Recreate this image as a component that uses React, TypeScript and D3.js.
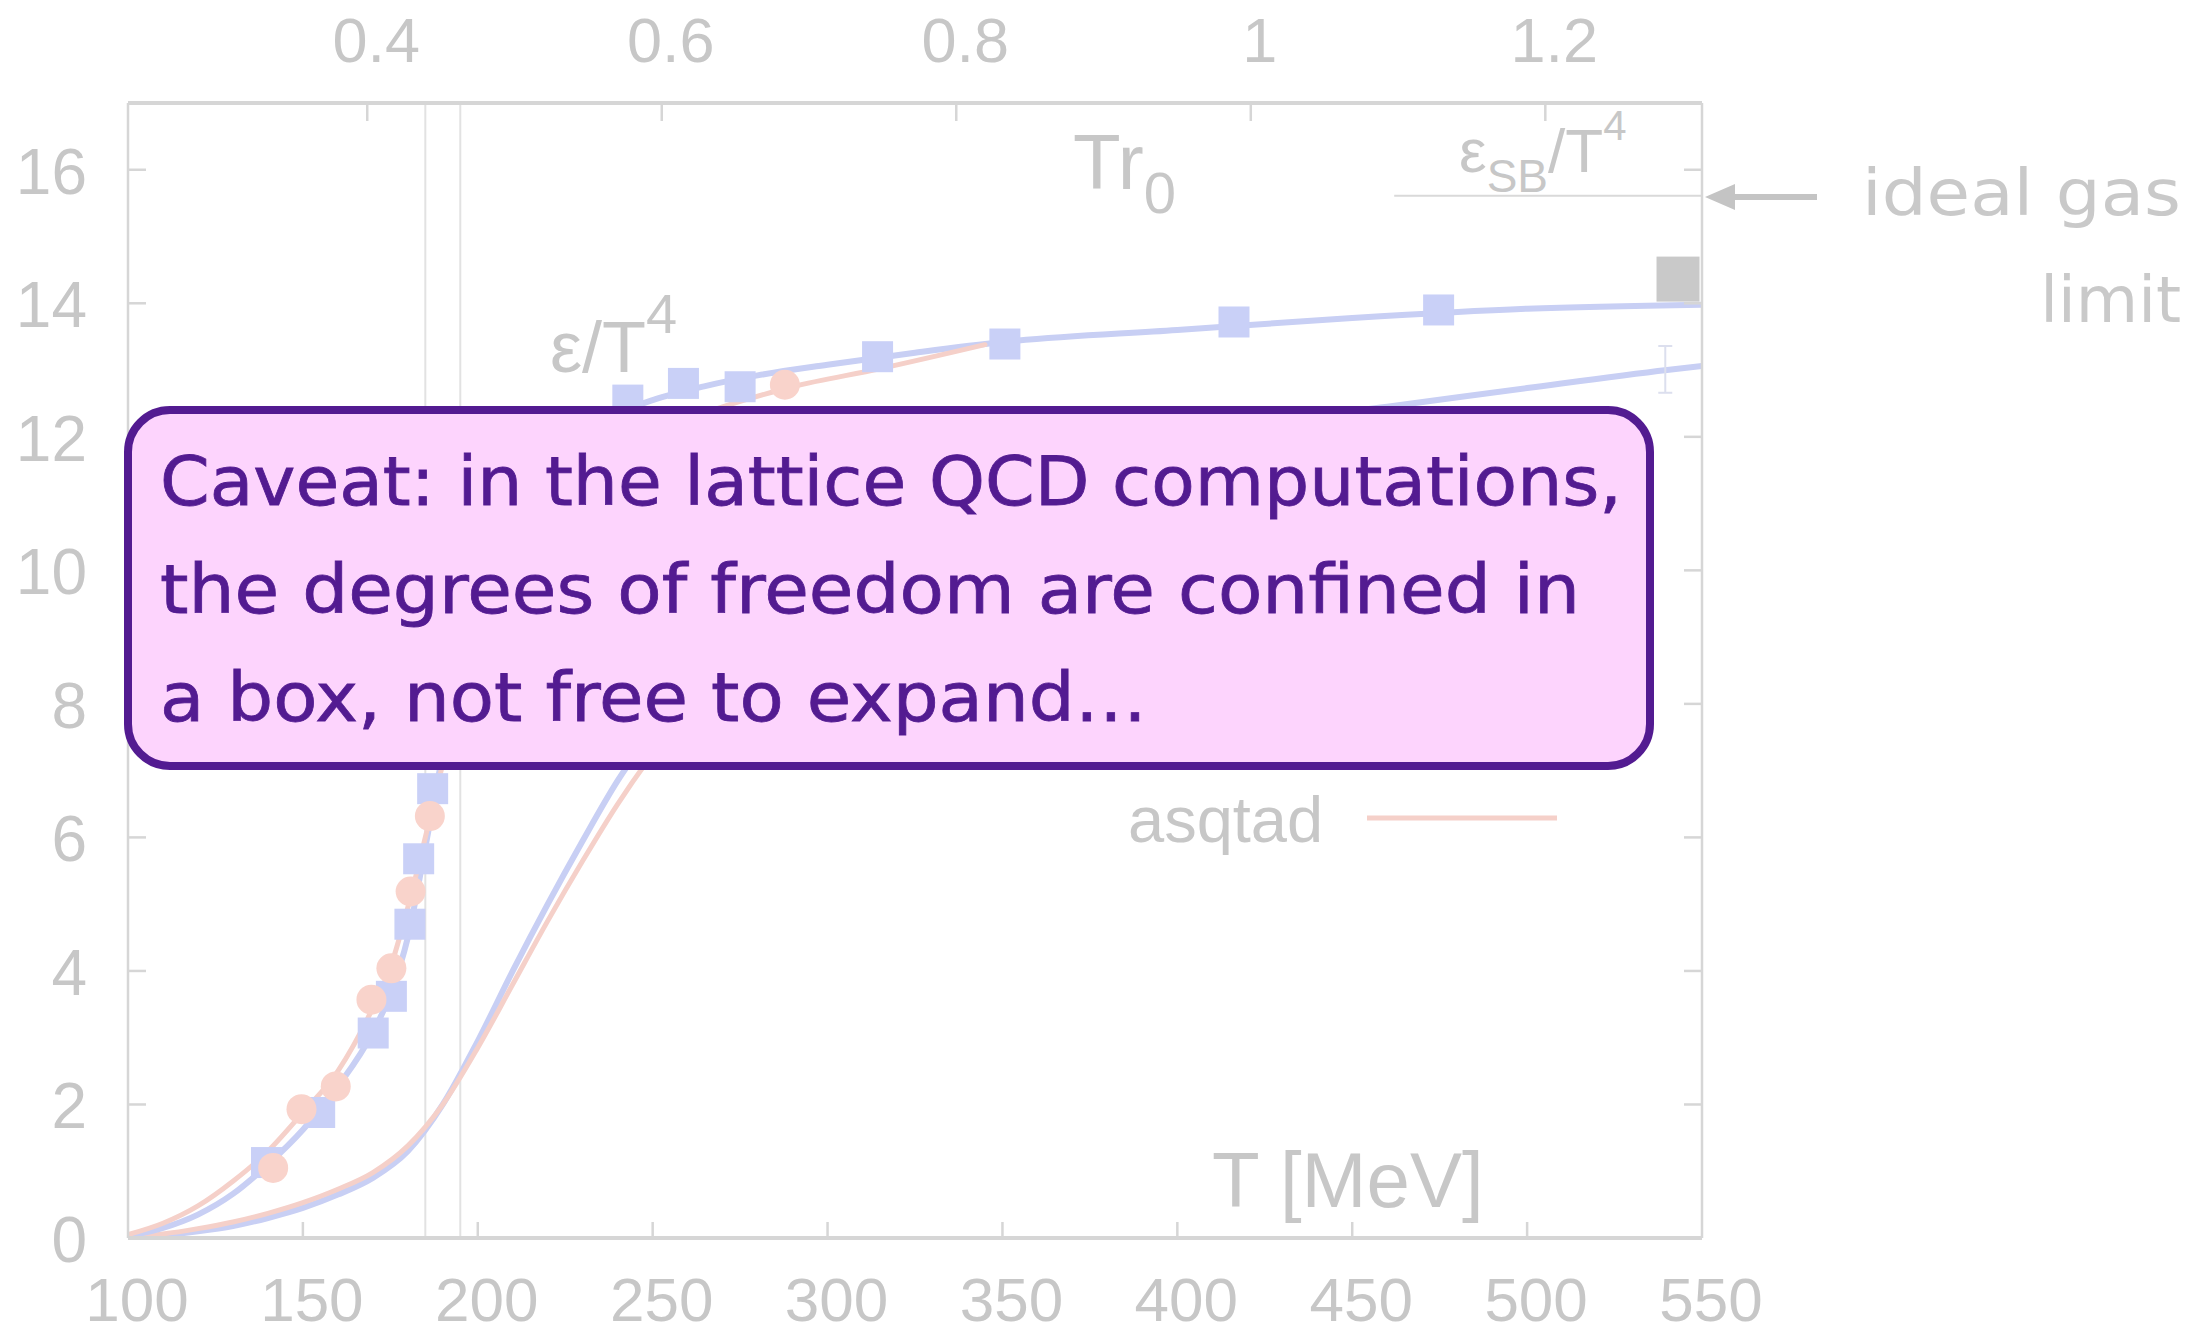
import React from "react";
import * as d3 from "d3";

// ---------- data ----------
const T_TICKS = [100, 150, 200, 250, 300, 350, 400, 450, 500, 550];
const Y_TICKS = [0, 2, 4, 6, 8, 10, 12, 14, 16];
const TR0_TICKS = [0.4, 0.6, 0.8, 1, 1.2];
const MEV_PER_TR0 = 421; // T at Tr0 = 1

// p4 (blue) energy density eps/T^4 fit curve
const p4EnergyT = [100, 110, 120, 130, 140, 150, 160, 170, 175, 180, 185, 190, 200, 210, 220, 230, 240, 250, 265, 280, 300, 325, 350, 400, 450, 500, 550];
const p4EnergyV = [0.03, 0.15, 0.35, 0.66, 1.1, 1.62, 2.27, 3.08, 3.65, 4.5, 5.85, 7.25, 9.5, 10.9, 11.65, 12.05, 12.35, 12.55, 12.76, 12.92, 13.08, 13.26, 13.42, 13.6, 13.78, 13.92, 13.98];
// asqtad (red) energy density curve
const asqEnergyT = [100, 110, 120, 130, 140, 150, 160, 170, 175, 180, 185, 190, 200, 210, 220, 230, 240, 250, 270, 290, 315, 345];
const asqEnergyV = [0.05, 0.22, 0.48, 0.85, 1.3, 1.88, 2.5, 3.45, 4.05, 4.95, 6.0, 7.1, 8.9, 10.1, 10.95, 11.5, 11.85, 12.1, 12.45, 12.75, 13.02, 13.38];
// p4 pressure 3p/T^4 curve
const p4PressT = [100, 110, 120, 130, 140, 150, 160, 170, 180, 190, 200, 210, 220, 230, 240, 250, 260, 280, 300, 325, 350, 400, 460, 500, 540, 550];
const p4PressV = [0.0, 0.04, 0.1, 0.18, 0.3, 0.45, 0.65, 0.9, 1.3, 2.0, 2.95, 4.0, 5.0, 5.95, 6.85, 7.6, 8.3, 9.45, 10.3, 11.0, 11.5, 12.05, 12.45, 12.73, 13.0, 13.06];
// asqtad pressure 3p/T^4 curve
const asqPressT = [100, 110, 120, 130, 140, 150, 160, 170, 180, 190, 200, 210, 220, 230, 240, 250, 265, 280, 300];
const asqPressV = [0.01, 0.06, 0.14, 0.24, 0.37, 0.53, 0.73, 0.98, 1.38, 2.0, 2.85, 3.8, 4.75, 5.65, 6.5, 7.25, 8.2, 9.0, 9.9];

// data points
const p4PointsT = [139.6, 154.8, 170.1, 175.3, 180.6, 183.1, 187.1, 242.9, 258.8, 275.0, 314.3, 350.7, 416.2, 474.7];
const p4PointsV = [1.13, 1.88, 3.07, 3.62, 4.7, 5.68, 6.73, 12.55, 12.8, 12.75, 13.2, 13.39, 13.72, 13.9];
const asqPointsT = [141.5, 149.6, 159.4, 169.6, 175.3, 180.8, 186.3, 287.8];
const asqPointsV = [1.05, 1.93, 2.27, 3.57, 4.04, 5.19, 6.32, 12.78];

const TC_BAND = [185, 195];
const SB_LIMIT = 15.61;
const SB_LINE_START = 462;
const GRAY_POINT = { T: 543, v: 14.37 };
const ERR_BAR = { T: 539.5, lo: 12.66, hi: 13.36 };

const CAPTION = [
  "Caveat: in the lattice QCD computations,",
  "the degrees of freedom are confined in",
  "a box, not free to expand…",
];
const CAPTION_WIDTHS = [1462, 1420, 987];

// ---------- style ----------
const AXIS = "#d6d6d6";
const GRAY_TEXT = "#c7c7c7";
const BLUE = "#c9d0f7";
const BLUE_LINE = "#c8cff4";
const RED = "#f9d3cb";
const RED_LINE = "#f5d0c9";
const BOX_FILL = "#fdd4fd";
const BOX_STROKE = "#531b91";
const FONT = "'Liberation Sans', Arial, sans-serif";
const HAND = "'DejaVu Sans', sans-serif";

const W = 2209;
const H = 1335;
const L = 128, R = 1702, TOP = 103, BOT = 1238;

export default function App() {
  const x = d3.scaleLinear().domain([100, 550]).range([L, R]);
  const y = d3.scaleLinear().domain([0, 17]).range([BOT, TOP]);
  const xTop = d3.scaleLinear().domain([100 / MEV_PER_TR0, 550 / MEV_PER_TR0]).range([L, R]);

  const line = d3
    .line<[number, number]>()
    .x((d) => x(d[0]))
    .y((d) => y(d[1]))
    .curve(d3.curveMonotoneX);

  const zip = (a: number[], b: number[]) => a.map((t, i) => [t, b[i]] as [number, number]);

  const sq = 31;
  const circR = 15;

  return (
    <svg
      width={W}
      height={H}
      style={{ position: "absolute", left: 0, top: 0, background: "#fff" }}
    >
      <defs>
        <clipPath id="plot">
          <rect x={L} y={TOP} width={R - L} height={BOT - TOP} />
        </clipPath>
      </defs>

      {/* Tc band lines */}
      {TC_BAND.map((t) => (
        <line key={t} x1={x(t)} x2={x(t)} y1={TOP} y2={BOT} stroke="#e2e2e2" strokeWidth={2} />
      ))}

      {/* SB limit */}
      <line x1={x(SB_LINE_START)} x2={R} y1={y(SB_LIMIT)} y2={y(SB_LIMIT)} stroke="#d9d9d9" strokeWidth={2} />

      <g clipPath="url(#plot)" fill="none" strokeLinecap="round">
        <path d={line(zip(p4PressT, p4PressV)) || ""} stroke={BLUE_LINE} strokeWidth={6} />
        <path d={line(zip(asqPressT, asqPressV)) || ""} stroke={RED_LINE} strokeWidth={5} />
        <path d={line(zip(p4EnergyT, p4EnergyV)) || ""} stroke={BLUE_LINE} strokeWidth={6} />
        <path d={line(zip(asqEnergyT, asqEnergyV)) || ""} stroke={RED_LINE} strokeWidth={5} />
      </g>

      {/* points */}
      {p4PointsT.map((t, i) => (
        <rect key={"b" + i} x={x(t) - sq / 2} y={y(p4PointsV[i]) - sq / 2} width={sq} height={sq} fill={BLUE} />
      ))}
      {asqPointsT.map((t, i) => (
        <circle key={"r" + i} cx={x(t)} cy={y(asqPointsV[i])} r={circR} fill={RED} />
      ))}

      {/* gray point */}
      <rect x={x(GRAY_POINT.T) - 21} y={y(GRAY_POINT.v) - 22} width={43} height={45} fill="#c9c9c9" />

      {/* error bar */}
      <g stroke="#dcdfee" strokeWidth={2}>
        <line x1={x(ERR_BAR.T)} x2={x(ERR_BAR.T)} y1={y(ERR_BAR.lo)} y2={y(ERR_BAR.hi)} />
        <line x1={x(ERR_BAR.T) - 7} x2={x(ERR_BAR.T) + 7} y1={y(ERR_BAR.lo)} y2={y(ERR_BAR.lo)} />
        <line x1={x(ERR_BAR.T) - 7} x2={x(ERR_BAR.T) + 7} y1={y(ERR_BAR.hi)} y2={y(ERR_BAR.hi)} />
      </g>

      {/* frame */}
      <line x1={L} x2={L} y1={TOP} y2={BOT} stroke={AXIS} strokeWidth={2.5} />
      <line x1={R} x2={R} y1={TOP} y2={BOT} stroke={AXIS} strokeWidth={2.5} />
      <line x1={L} x2={R} y1={BOT} y2={BOT} stroke={AXIS} strokeWidth={4} />
      <line x1={L} x2={R} y1={TOP} y2={TOP} stroke={AXIS} strokeWidth={4} />

      {/* bottom ticks + labels */}
      {T_TICKS.map((t) => (
        <g key={"xt" + t}>
          {t > 100 && t < 550 && (
            <line x1={x(t)} x2={x(t)} y1={BOT} y2={BOT - 16} stroke={AXIS} strokeWidth={2.5} />
          )}
          <text x={x(t) + 9} y={1321} textAnchor="middle" fontFamily={FONT} fontSize={62} fill={GRAY_TEXT}>
            {t}
          </text>
        </g>
      ))}

      {/* top ticks + labels */}
      {TR0_TICKS.map((t) => (
        <g key={"tt" + t}>
          <line x1={xTop(t)} x2={xTop(t)} y1={TOP} y2={TOP + 18} stroke={AXIS} strokeWidth={2.5} />
          <text x={xTop(t) + 9} y={62} textAnchor="middle" fontFamily={FONT} fontSize={63} fill={GRAY_TEXT}>
            {String(t)}
          </text>
        </g>
      ))}

      {/* y ticks + labels */}
      {Y_TICKS.map((v) => (
        <g key={"yt" + v}>
          {v > 0 && (
            <>
              <line x1={L} x2={L + 18} y1={y(v)} y2={y(v)} stroke={AXIS} strokeWidth={2.5} />
              <line x1={R} x2={R - 18} y1={y(v)} y2={y(v)} stroke={AXIS} strokeWidth={2.5} />
            </>
          )}
          <text x={87} y={y(v) + 24} textAnchor="end" fontFamily={FONT} fontSize={64} fill={GRAY_TEXT}>
            {v}
          </text>
        </g>
      ))}

      {/* in-plot labels */}
      <text x={1073} y={189} fontFamily={FONT} fontSize={78} fill={GRAY_TEXT}>
        Tr
        <tspan fontSize={58} dy={24}>0</tspan>
      </text>
      <text x={1212} y={1207} fontFamily={FONT} fontSize={78} fill={GRAY_TEXT}>
        T [MeV]
      </text>
      <text x={550} y={372} fontFamily={FONT} fontSize={72} fill={GRAY_TEXT}>
        ε/T
        <tspan fontSize={56} dy={-39}>4</tspan>
      </text>
      <text x={1459} y={172} fontFamily={FONT} fontSize={62} fill={GRAY_TEXT}>
        ε
        <tspan fontSize={46} dy={20}>SB</tspan>
        <tspan fontSize={62} dy={-20}>/T</tspan>
        <tspan fontSize={42} dy={-32}>4</tspan>
      </text>

      {/* legend */}
      <text x={1128} y={842} fontFamily={FONT} fontSize={65} fill={GRAY_TEXT}>
        asqtad
      </text>
      <line x1={1367} x2={1557} y1={818} y2={818} stroke={RED_LINE} strokeWidth={5} />

      {/* ideal gas arrow */}
      <line x1={1817} x2={1728} y1={197} y2={197} stroke="#c4c4c4" strokeWidth={6} />
      <path d="M1705,197 L1735,184 L1735,210 Z" fill="#c4c4c4" />
      <text x={1862} y={215} fontFamily={HAND} fontSize={64} fill="#c9c9c9" textLength={319} lengthAdjust="spacingAndGlyphs">
        ideal gas
      </text>
      <text x={2181} y={322} textAnchor="end" fontFamily={HAND} fontSize={64} fill="#c9c9c9">
        limit
      </text>

      {/* caption box */}
      <rect x={128} y={410} width={1522} height={356} rx={42} ry={42} fill={BOX_FILL} stroke={BOX_STROKE} strokeWidth={8} />
      {CAPTION.map((s, i) => (
        <text
          key={i}
          x={160}
          y={505 + i * 108}
          fontFamily={HAND}
          fontSize={68}
          fill={BOX_STROKE}
          stroke={BOX_STROKE}
          strokeWidth={0.8}
          textLength={CAPTION_WIDTHS[i]}
          lengthAdjust="spacingAndGlyphs"
        >
          {s}
        </text>
      ))}
    </svg>
  );
}
